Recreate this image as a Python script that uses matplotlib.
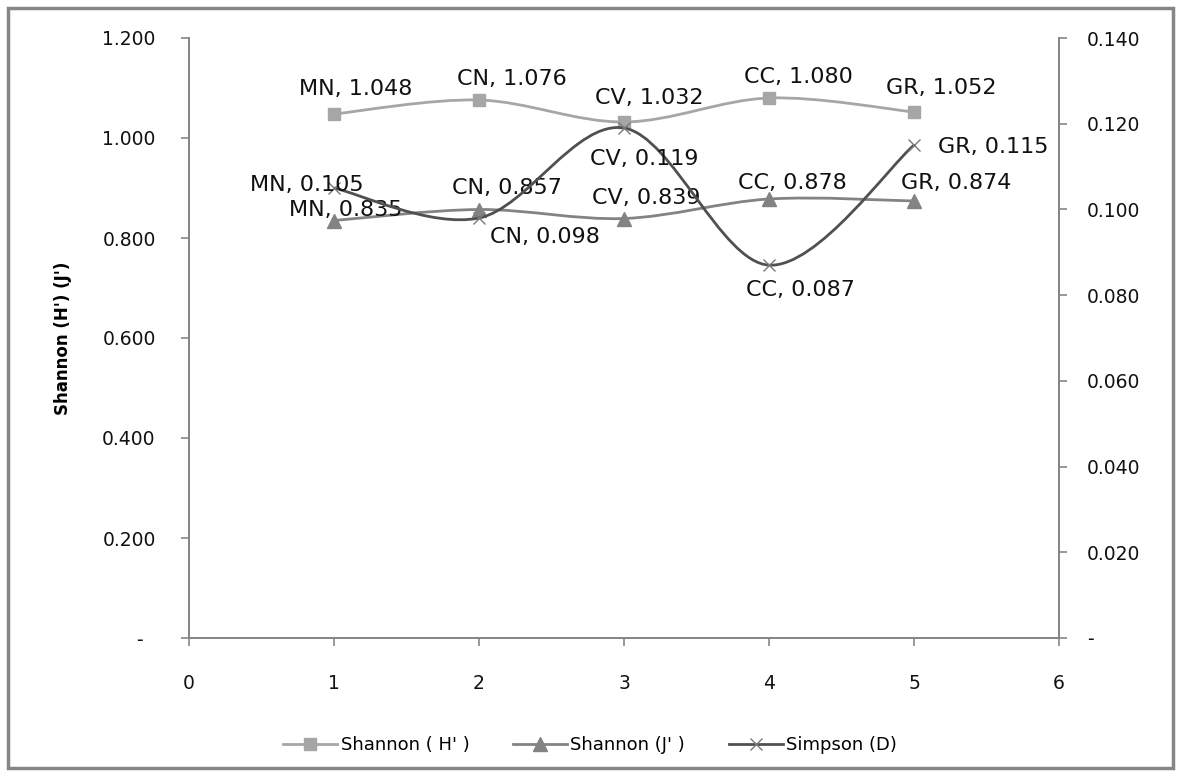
#diversity indices chart (Shannon H', J' and Simpson D) per site
import numpy as np
import matplotlib
matplotlib.use('Agg')
import matplotlib.pyplot as plt
from matplotlib.path import Path
from matplotlib.patches import PathPatch, Rectangle
from matplotlib.lines import Line2D
from matplotlib.ticker import FuncFormatter, MultipleLocator

sites = ['MN', 'CN', 'CV', 'CC', 'GR']
x_pos = [1, 2, 3, 4, 5]
shannon_h = [1.048, 1.076, 1.032, 1.080, 1.052]
shannon_j = [0.835, 0.857, 0.839, 0.878, 0.874]
simpson_d = [0.105, 0.098, 0.119, 0.087, 0.115]

# label offsets in pixels (left edge dx, center dy up)
off_h = [(-35, 25), (-22, 21), (-29, 24), (-25, 21), (-28, 24)]
off_j = [(-45, 10), (-27, 21), (-32, 21), (-31, 16), (-13, 18)]
off_d = [(-84, 3), (11, -19), (-34, -31), (-23, -25), (24, -2)]

c_h = '#a6a6a6'
c_j = '#838383'
c_d = '#505050'
spine_c = '#868686'


def smooth_path(xs, ys):
    # excel style smoothed line: bezier through the points
    pts = np.column_stack([xs, ys]).astype(float)
    n = len(pts)
    verts = [pts[0]]
    codes = [Path.MOVETO]
    for i in range(n - 1):
        p0 = pts[i - 1] if i > 0 else pts[i]
        p1 = pts[i]
        p2 = pts[i + 1]
        p3 = pts[i + 2] if i + 2 < n else pts[i + 1]
        verts += [p1 + (p2 - p0) / 6.0, p2 - (p3 - p1) / 6.0, p2]
        codes += [Path.CURVE4] * 3
    return Path(verts, codes)


fig = plt.figure(figsize=(11.8, 7.76), dpi=100)
ax = fig.add_axes([189 / 1180, 1 - 638 / 776, (1059 - 189) / 1180, 600 / 776])
ax2 = ax.twinx()

fig.patches.append(Rectangle((8 / 1180, 8 / 776), 1165 / 1180, 760 / 776,
                             transform=fig.transFigure, fill=False,
                             edgecolor=spine_c, linewidth=2.5))

ax.add_patch(PathPatch(smooth_path(x_pos, shannon_h), fill=False, edgecolor=c_h, lw=2.0))
ax.plot(x_pos, shannon_h, ls='none', marker='s', ms=9, color=c_h)
ax.add_patch(PathPatch(smooth_path(x_pos, shannon_j), fill=False, edgecolor=c_j, lw=2.0))
ax.plot(x_pos, shannon_j, ls='none', marker='^', ms=10, color=c_j)
ax2.add_patch(PathPatch(smooth_path(x_pos, simpson_d), fill=False, edgecolor=c_d, lw=2.0))
ax2.plot(x_pos, simpson_d, ls='none', marker='x', ms=9, mew=1.0, color='#7a7a7a')

lab_font = dict(family='DejaVu Sans', size=16, color='#111111')
for i in range(len(sites)):
    ax.annotate(f'{sites[i]}, {shannon_h[i]:.3f}', (x_pos[i], shannon_h[i]),
                xytext=off_h[i], textcoords='offset pixels', ha='left', va='center', **lab_font)
    ax.annotate(f'{sites[i]}, {shannon_j[i]:.3f}', (x_pos[i], shannon_j[i]),
                xytext=off_j[i], textcoords='offset pixels', ha='left', va='center', **lab_font)
    ax2.annotate(f'{sites[i]}, {simpson_d[i]:.3f}', (x_pos[i], simpson_d[i]),
                 xytext=off_d[i], textcoords='offset pixels', ha='left', va='center', **lab_font)

ax.set_xlim(0, 6)
ax.set_ylim(0, 1.2)
ax2.set_ylim(0, 0.14)
ax.xaxis.set_major_locator(MultipleLocator(1))
ax.yaxis.set_major_locator(MultipleLocator(0.2))
ax2.yaxis.set_major_locator(MultipleLocator(0.02))
ax.yaxis.set_major_formatter(FuncFormatter(lambda v, p: '-  ' if abs(v) < 1e-9 else f'{v:.3f}'))
ax2.yaxis.set_major_formatter(FuncFormatter(lambda v, p: '-' if abs(v) < 1e-9 else f'{v:.3f}'))

for a in (ax, ax2):
    a.spines['top'].set_visible(False)
    for s in ('left', 'right', 'bottom'):
        a.spines[s].set_color(spine_c)
        a.spines[s].set_linewidth(1.3)
ax.tick_params(axis='y', direction='out', length=6, width=1.2, color=spine_c, pad=18,
               labelsize=13.5, labelcolor='#111111')
ax.tick_params(axis='x', direction='out', length=6, width=1.2, color=spine_c, pad=20,
               labelsize=13.5, labelcolor='#111111')
ax2.tick_params(axis='y', direction='out', length=6, width=1.2, color=spine_c, pad=14,
                labelsize=13.5, labelcolor='#111111')

ax.set_ylabel("Shannon (H') (J')", fontsize=12, fontweight='bold', labelpad=22)

handles = [
    Line2D([], [], color=c_h, lw=2.0, marker='s', ms=9),
    Line2D([], [], color=c_j, lw=2.0, marker='^', ms=10),
    Line2D([], [], color=c_d, lw=2.0, marker='x', ms=9, mew=1.0, mec='#7a7a7a'),
]
fig.legend(handles, ["Shannon ( H' )", "Shannon (J' )", 'Simpson (D)'], loc='center',
           bbox_to_anchor=(0.5, 1 - 745 / 776), ncol=3, frameon=False, fontsize=13,
           handlelength=3.0, handletextpad=0.2, columnspacing=2.4)

plt.savefig('out.png', dpi=100)
